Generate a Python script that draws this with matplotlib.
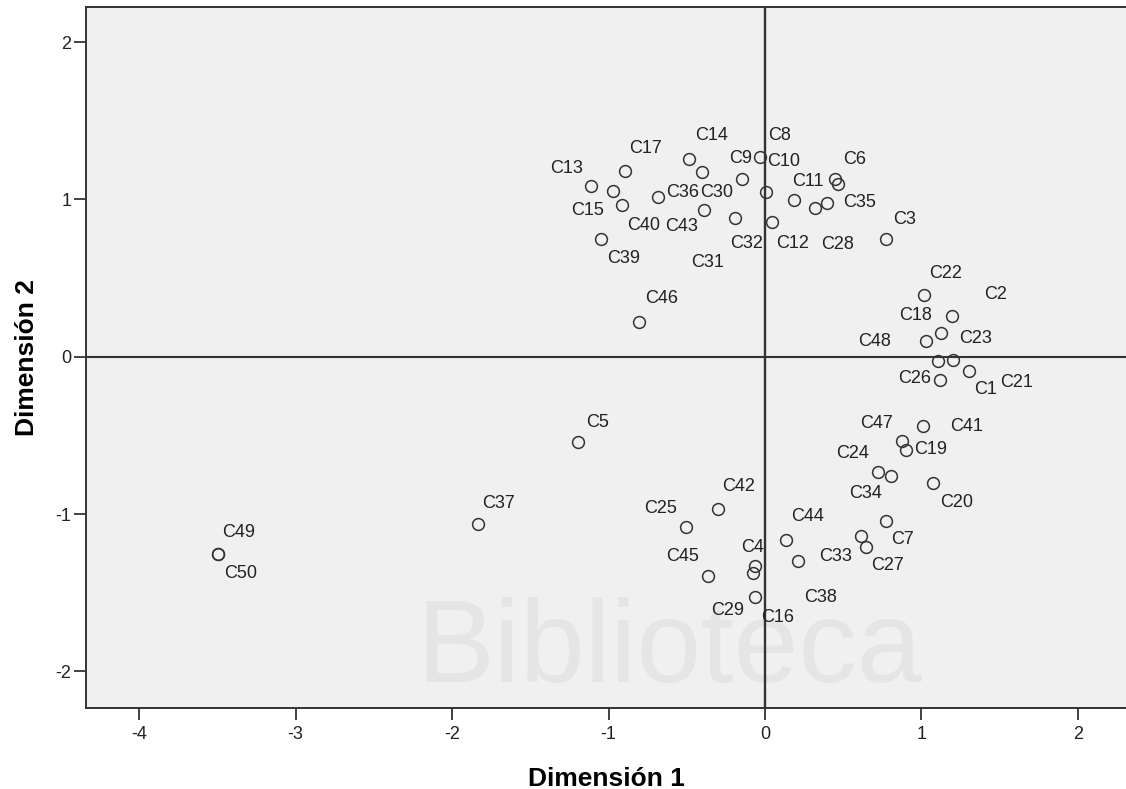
import matplotlib.pyplot as plt

plt.rcParams['font.family'] = ['Liberation Sans', 'DejaVu Sans']
plt.rcParams['axes.unicode_minus'] = False

# object scores (Dimensión 1, Dimensión 2)
names = ['C1', 'C2', 'C3', 'C4', 'C5', 'C6', 'C7', 'C8', 'C9', 'C10',
         'C11', 'C12', 'C13', 'C14', 'C15', 'C16', 'C17', 'C18', 'C19', 'C20',
         'C21', 'C22', 'C23', 'C24', 'C25', 'C26', 'C27', 'C28', 'C29', 'C30',
         'C31', 'C32', 'C33', 'C34', 'C35', 'C36', 'C37', 'C38', 'C39', 'C40',
         'C41', 'C42', 'C43', 'C44', 'C45', 'C46', 'C47', 'C48', 'C49', 'C50']
dim1 = [1.105, 1.195, 0.773, -0.064, -1.195, 0.466, 0.773, -0.032, -0.147, 0.006,
        0.185, 0.319, -1.112, -0.486, -0.971, -0.064, -0.895, 1.125, 0.901, 1.073,
        1.304, 1.016, 1.201, 0.722, -0.505, 1.118, 0.645, 0.396, -0.077, -0.403,
        -0.192, 0.045, 0.613, 0.805, 0.447, -0.684, -1.834, 0.211, -1.048, -0.914,
        1.010, -0.300, -0.390, 0.134, -0.364, -0.805, 0.875, 1.029, -3.495, -3.495]
dim2 = [-0.027, 0.259, 0.748, -1.331, -0.542, 1.098, -1.045, 1.270, 1.130, 1.047,
        0.996, 0.945, 1.085, 1.257, 1.053, -1.528, 1.181, 0.151, -0.593, -0.803,
        -0.091, 0.392, -0.021, -0.733, -1.083, -0.148, -1.210, 0.977, -1.375, 1.174,
        0.882, 0.856, -1.140, -0.758, 1.130, 1.015, -1.064, -1.299, 0.748, 0.964,
        -0.441, -0.968, 0.933, -1.165, -1.394, 0.221, -0.536, 0.100, -1.254, -1.254]

# where each label sits relative to its point (pixels, y up)
label_offsets = {
    'C1': (48, -29), 'C2': (44, 21), 'C3': (19, 20), 'C4': (-2, 19), 'C5': (20, 19),
    'C6': (17, 24), 'C7': (17, -18), 'C8': (20, 21), 'C9': (-1, 20), 'C10': (18, 30),
    'C11': (14, 19), 'C12': (-22, -35), 'C13': (-24, 18), 'C14': (23, 23), 'C15': (-25, -19),
    'C16': (23, -20), 'C17': (21, 22), 'C18': (-25, 17), 'C19': (25, 0), 'C20': (24, -19),
    'C21': (48, -11), 'C22': (22, 22), 'C23': (23, 22), 'C24': (-25, 19), 'C25': (-25, 19),
    'C26': (-25, 1), 'C27': (22, -18), 'C28': (11, -41), 'C29': (-25, -37), 'C30': (15, -20),
    'C31': (-27, -45), 'C32': (-25, -21), 'C33': (-25, -20), 'C34': (-25, -18), 'C35': (25, -24),
    'C36': (25, 5), 'C37': (21, 21), 'C38': (23, -36), 'C39': (23, -19), 'C40': (22, -20),
    'C41': (44, 0), 'C42': (21, 22), 'C43': (-22, -17), 'C44': (22, 23), 'C45': (-25, 19),
    'C46': (23, 23), 'C47': (-25, 18), 'C48': (-51, -1), 'C49': (21, 21), 'C50': (23, -20),
}

fig = plt.figure(figsize=(11.26, 7.89), dpi=100)
ax = fig.add_axes([86 / 1126, 81.5 / 789, 1040 / 1126, 700.5 / 789])
ax.set_facecolor('#f0f0f0')

# library watermark, kept inside the plot area
ax.text(416 / 1126, 83 / 789, 'Biblioteca', transform=fig.transFigure, fontsize=84,
        color='#e5e5e5', ha='left', va='bottom', zorder=0.5, clip_on=True)

ax.axhline(0, color='#333333', lw=1.5, zorder=1)
ax.axvline(0, color='#333333', lw=1.7, zorder=1)

ax.plot(dim1, dim2, 'o', ms=8.5, mfc='none', mec='#333333', mew=1.1, zorder=3)
for n, x, y in zip(names, dim1, dim2):
    ax.annotate(n, (x, y), xytext=label_offsets[n], textcoords='offset pixels',
                ha='center', va='center', fontsize=13, color='#222222', zorder=4)

ax.set_xlim(-4.339, 2.307)
ax.set_ylim(-2.230, 2.223)
ax.set_xticks([-4, -3, -2, -1, 0, 1, 2])
ax.set_yticks([-2, -1, 0, 1, 2])
ax.tick_params(direction='out', length=8.5, width=1.3, color='#333333',
               labelsize=13, labelcolor='#222222')
ax.tick_params(axis='x', pad=5)
ax.tick_params(axis='y', pad=2)

for side in ['left', 'bottom', 'top']:
    ax.spines[side].set_color('#333333')
    ax.spines[side].set_linewidth(1.4)
ax.spines['right'].set_visible(False)

ax.set_xlabel('Dimensión 1', fontsize=19, fontweight='bold', labelpad=17)
ax.set_ylabel('Dimensión 2', fontsize=19, fontweight='bold', labelpad=12)

fig.savefig('out.png', dpi=100)
